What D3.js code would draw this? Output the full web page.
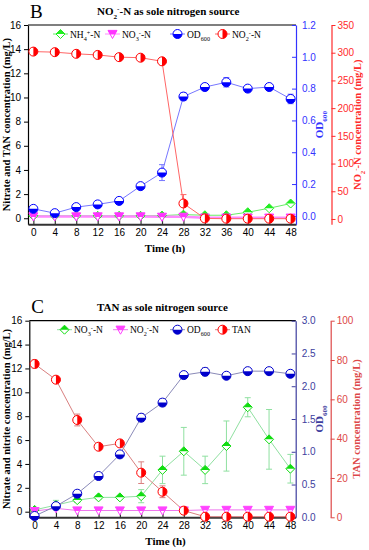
<!DOCTYPE html>
<html>
<head>
<meta charset="utf-8">
<script src="https://cdn.jsdelivr.net/npm/d3@7"></script>
<style>
  body { margin: 0; background: #fff; }
  svg { display: block; }
  .tick text { font-family: "Liberation Sans", Arial, sans-serif; font-size: 10px; }
  .serif { font-family: "Liberation Serif", "Times New Roman", serif; }
</style>
</head>
<body>
<div id="chart"></div>
<script>
// sampling times (h)
const hours = [0, 4, 8, 12, 16, 20, 24, 28, 32, 36, 40, 44, 48];

// panel B: nitrite as sole nitrogen source
const bNH4 = [0.2, 0.2, 0.2, 0.2, 0.2, 0.2, 0.22, 0.3, 0.25, 0.25, 0.5, 0.83, 1.22];
const bNO3 = [0.15, 0.15, 0.15, 0.15, 0.15, 0.15, 0.12, 0.12, 0.05, 0.05, 0.05, 0.05, 0.05];
const bOD = [0.044, 0.017, 0.055, 0.072, 0.094, 0.187, 0.272, 0.75, 0.81, 0.84, 0.8, 0.81, 0.735];
const bODErr = [0.01, 0.01, 0.01, 0.01, 0.01, 0.01, 0.05, 0.025, 0.02, 0.03, 0.015, 0.015, 0.03];
const bNO2 = [302, 301, 298, 296, 292, 291, 284.5, 28, 1, 0.5, 0.5, 0.5, 0.5];
const bNO2Err = [2, 2, 2, 2, 2, 2, 3, 16, 1, 1, 1, 1, 1];

// panel C: TAN as sole nitrogen source
const cNO3 = [0.15, 0.55, 0.97, 1.2, 1.2, 1.3, 3.5, 5.06, 3.5, 5.5, 8.75, 6.06, 3.6];
const cNO3Err = [0.1, 0.4, 0.2, 0.15, 0.15, 0.55, 1.15, 2, 1.15, 2.1, 0.8, 2.5, 1.2];
const cNO2 = [0.05, 0.28, 0.1, 0.1, 0.1, 0.1, 0.1, 0.1, 0.15, 0.15, 0.15, 0.15, 0.15];
const cOD = [0.02, 0.17, 0.36, 0.63, 0.96, 1.52, 1.75, 2.17, 2.22, 2.16, 2.23, 2.23, 2.19];
const cODErr = [0.01, 0.02, 0.02, 0.02, 0.02, 0.06, 0.06, 0.03, 0.06, 0.03, 0.03, 0.03, 0.05];
const cTAN = [78, 70, 49.5, 35.9, 37.6, 22.7, 13, 3.4, 0.3, 0.3, 0.3, 0.3, 0.3];
const cTANErr = [2, 1.2, 3, 1.2, 1.5, 5.5, 3, 1, 0, 0, 0, 0, 0];

// tick labels
const concTicks = [0, 2, 4, 6, 8, 10, 12, 14, 16];
const odTicksB = [0, 0.2, 0.4, 0.6, 0.8, 1.0, 1.2];
const no2Ticks = [0, 50, 100, 150, 200, 250, 300, 350];
const odTicksC = [0, 0.5, 1.0, 1.5, 2.0, 2.5, 3.0];
const tanTicks = [0, 20, 40, 60, 80, 100];

const width = 369, height = 550;
const svg = d3.select("#chart").append("svg")
  .attr("width", width).attr("height", height);

// marker shapes: outline path + filled half
const shapes = {
  circleBottom: r => [`M${-r},0A${r},${r} 0 1 0 ${r},0A${r},${r} 0 1 0 ${-r},0Z`, `M${-r},0A${r},${r} 0 0 0 ${r},0Z`],
  circleRight: r => [`M${-r},0A${r},${r} 0 1 0 ${r},0A${r},${r} 0 1 0 ${-r},0Z`, `M0,${-r}A${r},${r} 0 0 1 0,${r}Z`],
  diamond: r => [`M0,${-r}L${r},0L0,${r}L${-r},0Z`, `M${-r},0L0,${-r}L${r},0Z`],
  triDown: r => [`M${-r},${-0.8 * r}L${r},${-0.8 * r}L0,${r}Z`, `M${-r},${-0.8 * r}L${r},${-0.8 * r}L${0.5 * r},${0.1 * r}L${-0.5 * r},${0.1 * r}Z`]
};

function marker(g, shape, r, color) {
  const p = shapes[shape](r);
  g.append("path").attr("d", p[0]).attr("fill", "#fff").attr("stroke", color).attr("stroke-width", 1);
  g.append("path").attr("d", p[1]).attr("fill", color);
}

function subsup(sel, parts) {
  // parts: [text, kind] where kind is "", "sub" or "sup"
  parts.forEach(([t, k]) => {
    const ts = sel.append("tspan").text(t);
    if (k === "sub") ts.attr("baseline-shift", "sub").attr("font-size", "0.65em");
    if (k === "sup") ts.attr("baseline-shift", "super").attr("font-size", "0.65em");
  });
}

function drawPanel(p) {
  const g = svg.append("g");
  const x = d3.scaleLinear().domain([-1, 49]).range([p.left, p.right]);
  const y = d3.scaleLinear().domain(p.yDomain).range([p.bottom, p.top]);
  const yOD = d3.scaleLinear().domain(p.odDomain).range([p.bottom, p.top]);
  const yR = d3.scaleLinear().domain(p.rDomain).range([p.bottom, p.top]);
  const scales = { left: y, od: yOD, red: yR };

  // panel letter + title
  g.append("text").attr("class", "serif").attr("x", p.left + 2).attr("y", p.top - 7.5)
    .attr("font-size", 19).text(p.letter);
  const tt = g.append("text").attr("class", "serif").attr("x", 97).attr("y", p.top - 10)
    .attr("font-size", 11).attr("font-weight", "bold");
  subsup(tt, p.title);

  // top border
  g.append("line").attr("x1", p.left).attr("x2", p.right).attr("y1", p.top).attr("y2", p.top)
    .attr("stroke", "#000").attr("stroke-width", 1.2);

  // left axis
  const ax = g.append("g").attr("transform", `translate(${p.left},0)`)
    .call(d3.axisLeft(y).tickValues(concTicks).tickSize(4).tickSizeOuter(0).tickPadding(3));
  ax.select(".domain").attr("stroke", "#000").attr("stroke-width", 1.2);

  // bottom axis (inward ticks)
  const bx = g.append("g").attr("transform", `translate(0,${p.bottom})`)
    .call(d3.axisBottom(x).tickValues(hours).tickSize(-5).tickSizeOuter(0).tickPadding(5));
  bx.select(".domain").attr("stroke", "#333").attr("stroke-width", 2);
  bx.selectAll(".tick line").attr("stroke", "#333").attr("stroke-width", 1.2);

  // OD axis
  const ox = g.append("g").attr("transform", `translate(${p.right},0)`)
    .call(d3.axisRight(yOD).tickValues(p.odTicks).tickSize(-4).tickSizeOuter(0).tickPadding(6)
      .tickFormat(d3.format(".1f")));
  ox.select(".domain").attr("stroke", p.odAxis).attr("stroke-width", 1.2);
  ox.selectAll(".tick line").attr("stroke", p.odAxis);
  ox.selectAll(".tick text").attr("fill", p.odAxis);

  // second right axis
  const rx = g.append("g").attr("transform", `translate(${p.right2},0)`)
    .call(d3.axisRight(yR).tickValues(p.rTicks).tickSize(4).tickSizeOuter(0).tickPadding(2));
  rx.select(".domain").attr("stroke", p.rAxis).attr("stroke-width", 1.2);
  rx.selectAll(".tick line").attr("stroke", p.rAxis);
  rx.selectAll(".tick text").attr("fill", p.rAxis);

  // axis titles
  const midY = (p.top + p.bottom) / 2;
  g.append("text").attr("class", "serif").attr("font-weight", "bold").attr("font-size", 10.5)
    .attr("text-anchor", "middle").attr("transform", `translate(10,${midY}) rotate(-90)`)
    .text(p.yTitle);
  const ot = g.append("text").attr("class", "serif").attr("font-weight", "bold").attr("font-size", 11)
    .attr("fill", p.odAxis).attr("text-anchor", "middle")
    .attr("transform", `translate(${p.right + 27},${midY}) rotate(-90)`);
  subsup(ot, [["OD", ""], ["600", "sub"]]);
  const rt = g.append("text").attr("class", "serif").attr("font-weight", "bold").attr("font-size", 10.5)
    .attr("fill", p.rAxis).attr("text-anchor", "middle")
    .attr("transform", `translate(${p.right2 + 29},${midY}) rotate(-90)`);
  subsup(rt, p.rTitle);
  g.append("text").attr("class", "serif").attr("font-weight", "bold").attr("font-size", 11)
    .attr("text-anchor", "middle").attr("x", (p.left + p.right) / 2 + 3).attr("y", p.bottom + 28)
    .text("Time (h)");

  // series
  const line = sc => d3.line().x((d, i) => x(hours[i])).y(d => sc(d));
  p.series.forEach(s => {
    const sc = scales[s.axis];
    g.append("path").datum(s.values).attr("fill", "none").attr("stroke", s.line)
      .attr("stroke-width", s.lw || 1).attr("d", line(sc));
  });
  p.series.forEach(s => {
    if (!s.err) return;
    const sc = scales[s.axis];
    s.values.forEach((v, i) => {
      const e = s.err[i];
      if (!e) return;
      const cx = x(hours[i]);
      const y1 = sc(v - e), y2 = sc(v + e);
      g.append("line").attr("x1", cx).attr("x2", cx).attr("y1", y1).attr("y2", y2).attr("stroke", s.line);
      [y1, y2].forEach(yy => g.append("line").attr("x1", cx - 3).attr("x2", cx + 3)
        .attr("y1", yy).attr("y2", yy).attr("stroke", s.line));
    });
  });
  p.series.forEach(s => {
    const sc = scales[s.axis];
    s.values.forEach((v, i) => {
      const m = g.append("g").attr("transform", `translate(${x(hours[i])},${sc(v)})`);
      marker(m, s.shape, s.r, s.color);
    });
  });

  // legend
  p.legend.forEach(l => {
    const s = p.series[l.idx];
    const ly = p.top + 9;
    g.append("line").attr("x1", l.x).attr("x2", l.x + 15).attr("y1", ly).attr("y2", ly)
      .attr("stroke", s.line);
    marker(g.append("g").attr("transform", `translate(${l.x + 7.5},${ly})`), s.shape, s.r, s.color);
    const t = g.append("text").attr("class", "serif").attr("font-size", 9.5)
      .attr("x", l.x + 17).attr("y", ly + 3.5);
    subsup(t, l.label);
  });
}

drawPanel({
  letter: "B", top: 25, bottom: 224.3, left: 28, right: 296, right2: 331.5,
  title: [["NO", ""], ["2", "sub"], ["-", "sup"], ["-N as sole nitrogen source", ""]],
  yDomain: [-0.5, 16], odDomain: [-0.053, 1.2], odTicks: odTicksB,
  rDomain: [-9.6, 350], rTicks: no2Ticks,
  odAxis: "#3333ff", rAxis: "#ff2b2b",
  yTitle: "Nitrate and TAN concentration (mg/L)",
  rTitle: [["NO", ""], ["2", "sub"], ["-", "sup"], ["-N concentration (mg/L)", ""]],
  series: [
    { values: bNH4, axis: "left", shape: "diamond", r: 4.5, color: "#22ee22", line: "#66ee66" },
    { values: bNO3, axis: "left", shape: "triDown", r: 4.5, color: "#ff33ff", line: "#ff88ff", lw: 2.5 },
    { values: bOD, err: bODErr, axis: "od", shape: "circleBottom", r: 4.5, color: "#0000ff", line: "#7777ff" },
    { values: bNO2, err: bNO2Err, axis: "red", shape: "circleRight", r: 4.5, color: "#ff0000", line: "#ff6666" }
  ],
  legend: [
    { idx: 0, x: 53, label: [["NH", ""], ["4", "sub"], ["+", "sup"], ["-N", ""]] },
    { idx: 1, x: 105, label: [["NO", ""], ["3", "sub"], ["-", "sup"], ["-N", ""]] },
    { idx: 2, x: 170, label: [["OD", ""], ["600", "sub"]] },
    { idx: 3, x: 215, label: [["NO", ""], ["2", "sub"], ["-", "sup"], ["-N", ""]] }
  ]
});

drawPanel({
  letter: "C", top: 320.7, bottom: 517.3, left: 29.3, right: 295.7, right2: 330.7,
  title: [["TAN as sole nitrogen source", ""]],
  yDomain: [-0.47, 16], odDomain: [0, 3], odTicks: odTicksC,
  rDomain: [0, 100], rTicks: tanTicks,
  odAxis: "#3d3d9e", rAxis: "#dd4848",
  yTitle: "Nitrate and nitrite concentration (mg/L)",
  rTitle: [["TAN concentration (mg/L)", ""]],
  series: [
    { values: cNO3, err: cNO3Err, axis: "left", shape: "diamond", r: 4.5, color: "#11dd11", line: "#8fe0a0" },
    { values: cNO2, axis: "left", shape: "triDown", r: 4.5, color: "#ff44ff", line: "#ee77ee" },
    { values: cOD, err: cODErr, axis: "od", shape: "circleBottom", r: 4.5, color: "#0000cc", line: "#8a8ab8" },
    { values: cTAN, err: cTANErr, axis: "red", shape: "circleRight", r: 4.5, color: "#ff0000", line: "#d98080" }
  ],
  legend: [
    { idx: 0, x: 57, label: [["NO", ""], ["3", "sub"], ["-", "sup"], ["-N", ""]] },
    { idx: 1, x: 113, label: [["NO", ""], ["2", "sub"], ["-", "sup"], ["-N", ""]] },
    { idx: 2, x: 170, label: [["OD", ""], ["600", "sub"]] },
    { idx: 3, x: 215, label: [["TAN", ""]] }
  ]
});
</script>
</body>
</html>
